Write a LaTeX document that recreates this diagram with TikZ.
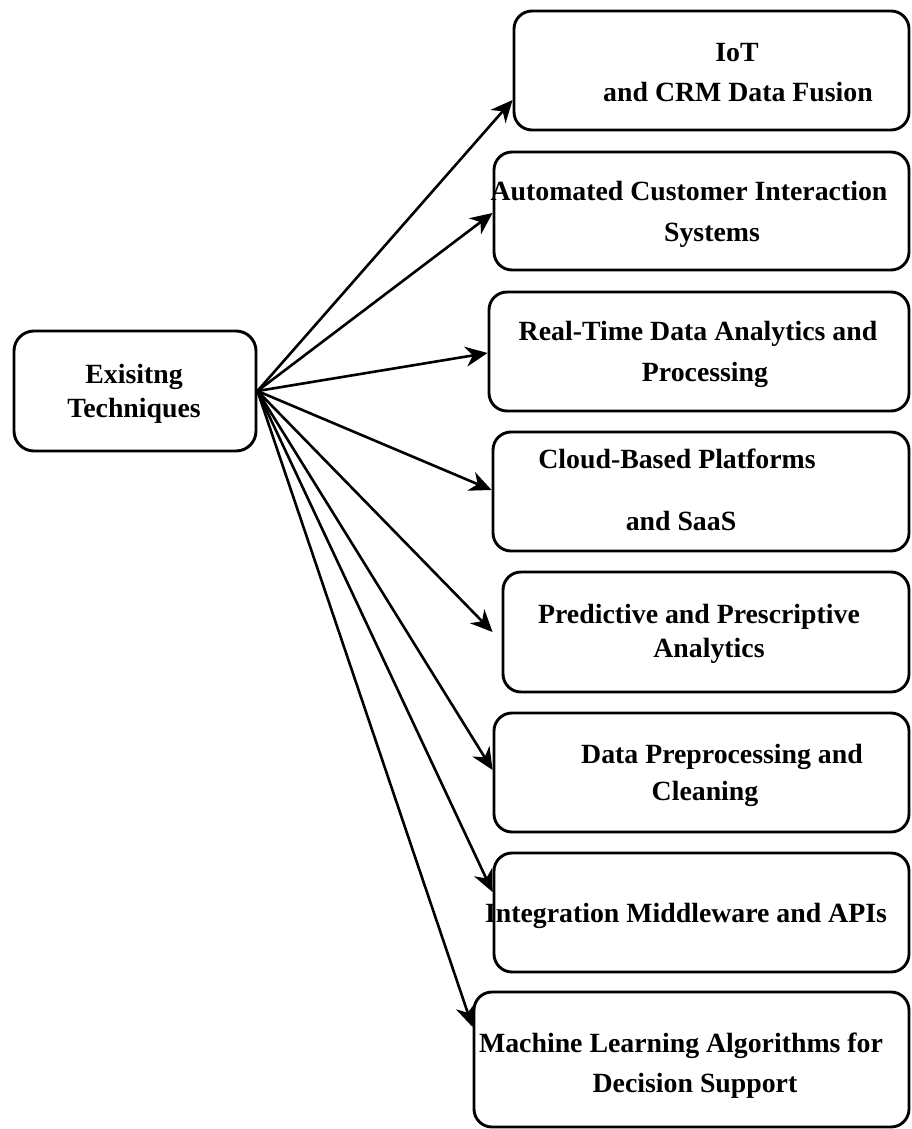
\documentclass[tikz,border=0pt]{standalone}
\usepackage{fontspec}
\setmainfont{Liberation Serif}
\usetikzlibrary{arrows.meta}

\tikzset{
  box/.style={draw=black, line width=2.9pt, rounded corners=18pt,
              rectangle, inner sep=0pt, fill=white},
  lbl/.style={anchor=base, inner sep=0pt, text=black,
              font=\bfseries\fontsize{27.8}{33}\selectfont},
  link/.style={line width=2.6pt, draw=black,
               -{Stealth[length=22pt, width=20pt, inset=7pt]}}
}

\begin{document}
\begin{tikzpicture}[x=1pt, y=-1pt]
  % canvas
  \fill[white] (0,0) rectangle (911,1129);
  \useasboundingbox (0,0) rectangle (911,1129);

  % source node
  \node[box, minimum width=242pt, minimum height=120pt, rounded corners=20pt] (src) at (135,391) {};
  \node[lbl] (srcA) at (134,383) {Exisitng};
  \node[lbl] (srcB) at (134,417) {Techniques};

  % technique boxes
  \node[box, minimum width=395pt, minimum height=119pt] (b1) at (711.5,70.5) {};
  \node[box, minimum width=415pt, minimum height=118pt] (b2) at (701.5,211) {};
  \node[box, minimum width=420pt, minimum height=119pt] (b3) at (699,351.5) {};
  \node[box, minimum width=416pt, minimum height=119pt] (b4) at (701,491.5) {};
  \node[box, minimum width=406pt, minimum height=120pt] (b5) at (706,632) {};
  \node[box, minimum width=415pt, minimum height=119pt] (b6) at (701.5,772.5) {};
  \node[box, minimum width=415pt, minimum height=119pt] (b7) at (701.5,912.5) {};
  \node[box, minimum width=435pt, minimum height=135pt] (b8) at (691.5,1059.5) {};

  % box labels
  \node[lbl] (t1a) at (737,62)  {IoT};
  \node[lbl] (t1b) at (738,102) {and CRM Data Fusion};
  \node[lbl] (t2a) at (689,200) {Automated Customer Interaction};
  \node[lbl] (t2b) at (712,241) {Systems};
  \node[lbl] (t3a) at (698,340) {Real-Time Data Analytics and};
  \node[lbl] (t3b) at (705,381) {Processing};
  \node[lbl] (t4a) at (677,468) {Cloud-Based Platforms};
  \node[lbl] (t4b) at (681,530) {and SaaS};
  \node[lbl] (t5a) at (699,623) {Predictive and Prescriptive};
  \node[lbl] (t5b) at (709,657) {Analytics};
  \node[lbl] (t6a) at (722,763) {Data Preprocessing and};
  \node[lbl] (t6b) at (705,800) {Cleaning};
  \node[lbl] (t7a) at (686,922) {Integration Middleware and APIs};
  \node[lbl] (t8a) at (681,1052) {Machine Learning Algorithms for};
  \node[lbl] (t8b) at (695,1092) {Decision Support};

  % connectors
  \draw[link] (src.east) -- ([yshift=-29.5pt]b1.west);
  \draw[link] (src.east) -- ([yshift=-2pt]b2.west);
  \draw[link] (src.east) -- ([yshift=-1.5pt]b3.west);
  \draw[link] (src.east) -- ([yshift=1.5pt]b4.west);
  \draw[link] (src.east) -- ([xshift=-9pt]b5.west);
  \draw[link] (src.east) -- ([yshift=2.5pt]b6.west);
  \draw[link] (src.east) -- ([yshift=20.5pt]b7.west);
  \draw[link] (src.east) -- ([yshift=32.5pt]b8.west);
\end{tikzpicture}
\end{document}
